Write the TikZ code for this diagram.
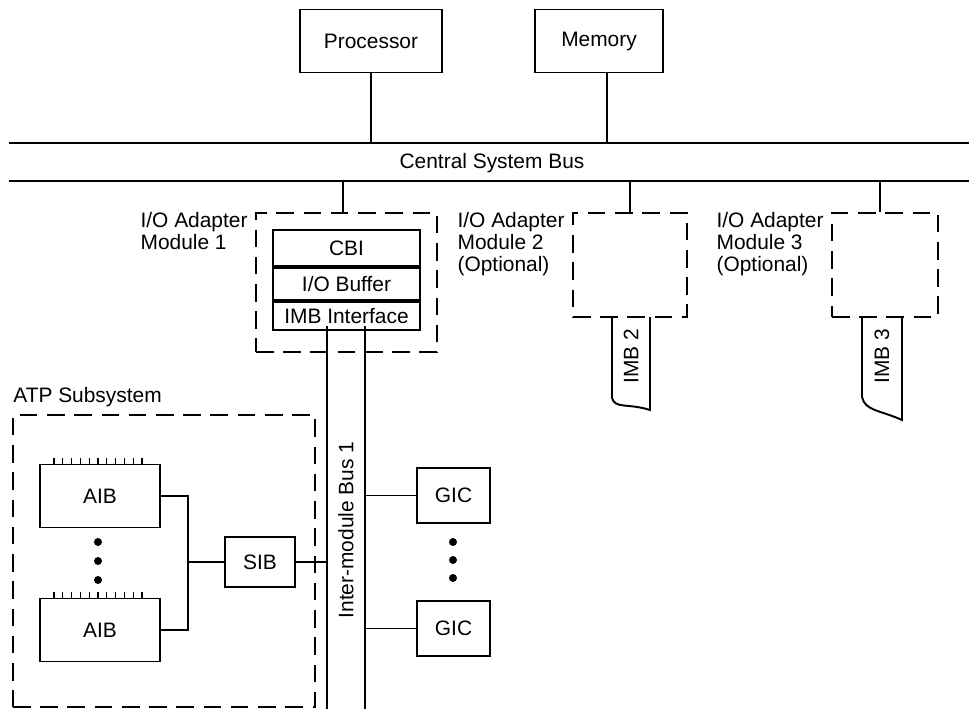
\documentclass[tikz,border=0pt]{standalone}
\usepackage{fontspec}
\setmainfont{Liberation Sans}
\usetikzlibrary{positioning}
\tikzset{
  semithick,
  box/.style = {rectangle, draw, line width=1.1pt, inner sep=0pt},
  dbox/.style = {rectangle, draw, line width=1.3pt, dash pattern=on 10pt off 5.5pt, inner sep=0pt},
  busline/.style = {line width=1.5pt},
  wire/.style = {line width=0.7pt},
  tape/.style = {line width=1.1pt},
  bullet/.style = {circle, fill=black, inner sep=0pt, minimum size=0.16cm, node contents={}},
  lbl/.style = {anchor=north east, align=left, inner sep=0pt, xshift=-0.14cm},
}
\begin{document}
\begin{tikzpicture}[x=0.02cm, y=-0.02cm, font=\fontsize{11.9}{12.5}\selectfont]
  \useasboundingbox (0,0) rectangle (969,709);
  \node (proc) [box, minimum width=2.84cm, minimum height=1.26cm] at (371,41) {Processor};
  \node (mem) [box, minimum width=2.56cm, minimum height=1.26cm] at (599,41) {Memory};
  \coordinate (csbTL) at (9,143);
  \coordinate (csbTR) at (969,143);
  \coordinate (csbBL) at (9,181);
  \coordinate (csbBR) at (969,181);
  \node (csb) at (492,163) {Central System Bus};
  \draw[busline] (csbTL) -- (csbTR);
  \draw[busline] (csbBL) -- (csbBR);
  \draw[wire] (proc.south) -- (proc.south |- csbTL);
  \draw[wire] ([xshift=0.16cm]mem.south) -- ([xshift=0.16cm]mem.south |- csbTL);

  \node (iom1) [dbox, minimum width=3.62cm, minimum height=2.78cm] at (346.5,282.5) {};
  \node (cbi) [box, minimum width=2.94cm, minimum height=0.72cm] at (346.5,248) {CBI};
  \node (iobuf) [box, minimum width=2.94cm, minimum height=0.64cm, below=0pt of cbi] {I/O Buffer};
  \node (imbif) [box, minimum width=2.94cm, minimum height=0.56cm, below=0pt of iobuf] {IMB Interface};
  \node (iom1lbl) [lbl] at (iom1.north west) {I/O Adapter\\Module 1};
  \draw[wire] ([xshift=-0.07cm]iom1.north) -- ([xshift=-0.07cm]iom1.north |- csbBL);

  \node (iom2) [dbox, minimum width=2.28cm, minimum height=2.08cm] at (630,265) {};
  \node (iom2lbl) [lbl] at (iom2.north west) {I/O Adapter\\Module 2\\(Optional)};
  \draw[wire] (iom2.north) -- (iom2.north |- csbBL);
  \node (iom3) [dbox, minimum width=2.12cm, minimum height=2.08cm] at (885,265) {};
  \node (iom3lbl) [lbl] at (iom3.north west) {I/O Adapter\\Module 3\\(Optional)};
  \draw[wire] ([xshift=-0.1cm]iom3.north) -- ([xshift=-0.1cm]iom3.north |- csbBL);

  \draw[tape] (612,317) -- (612,398) .. controls (615,409) and (628,403) .. (650,410) -- (650,317);
  \node (imb2) [rotate=90] at (631,356) {IMB 2};
  \draw[tape] (862,317) -- (862,397) .. controls (865,411) and (880,410) .. (902,420) -- (902,317);
  \node (imb3) [rotate=90] at (882,356) {IMB 3};

  \coordinate (imbL) at (327,326);
  \coordinate (imbR) at (365,326);
  \coordinate (imbLend) at (327,709);
  \coordinate (imbRend) at (365,709);
  \draw[tape] (imbL) -- (imbLend);
  \draw[tape] (imbR) -- (imbRend);
  \node (imb1) [rotate=90] at (346,530) {Inter-module Bus 1};

  \node (atp) [dbox, minimum width=6.04cm, minimum height=5.84cm] at (164,561) {};
  \node (atplbl) [anchor=west, inner sep=0pt] at (13,397) {ATP Subsystem};
  \node (aib1) [box, minimum width=2.4cm, minimum height=1.26cm] at (100,496) {AIB};
  \node (aib2) [box, minimum width=2.4cm, minimum height=1.26cm] at (100,630) {AIB};
  \foreach \n in {aib1,aib2}
    \foreach \i in {0,...,10}
      \draw[wire] ([xshift={0.3cm+\i*0.176cm}]\n.north west) -- ++(0,-6);
  \foreach \y [count=\k] in {542,561,580}
    \node (adot\k) at (98,\y) [bullet];
  \node (sib) [box, minimum width=1.4cm, minimum height=1.0cm] at (260,562) {SIB};
  \coordinate (jn) at (188,562);
  \draw[wire] (aib1.east) -| (jn) |- (aib2.east);
  \draw[wire] (jn) -- (sib.west);
  \draw[wire] (sib.east) -- (sib.east -| imbL);

  \node (gic1) [box, minimum width=1.46cm, minimum height=1.1cm] at (453.5,495.5) {GIC};
  \node (gic2) [box, minimum width=1.46cm, minimum height=1.1cm] at (453.5,628.5) {GIC};
  \foreach \y [count=\k] in {542,560,578}
    \node (gdot\k) at (453,\y) [bullet];
  \draw[wire] (gic1.west) -- (gic1.west -| imbR);
  \draw[wire] (gic2.west) -- (gic2.west -| imbR);
\end{tikzpicture}
\end{document}
